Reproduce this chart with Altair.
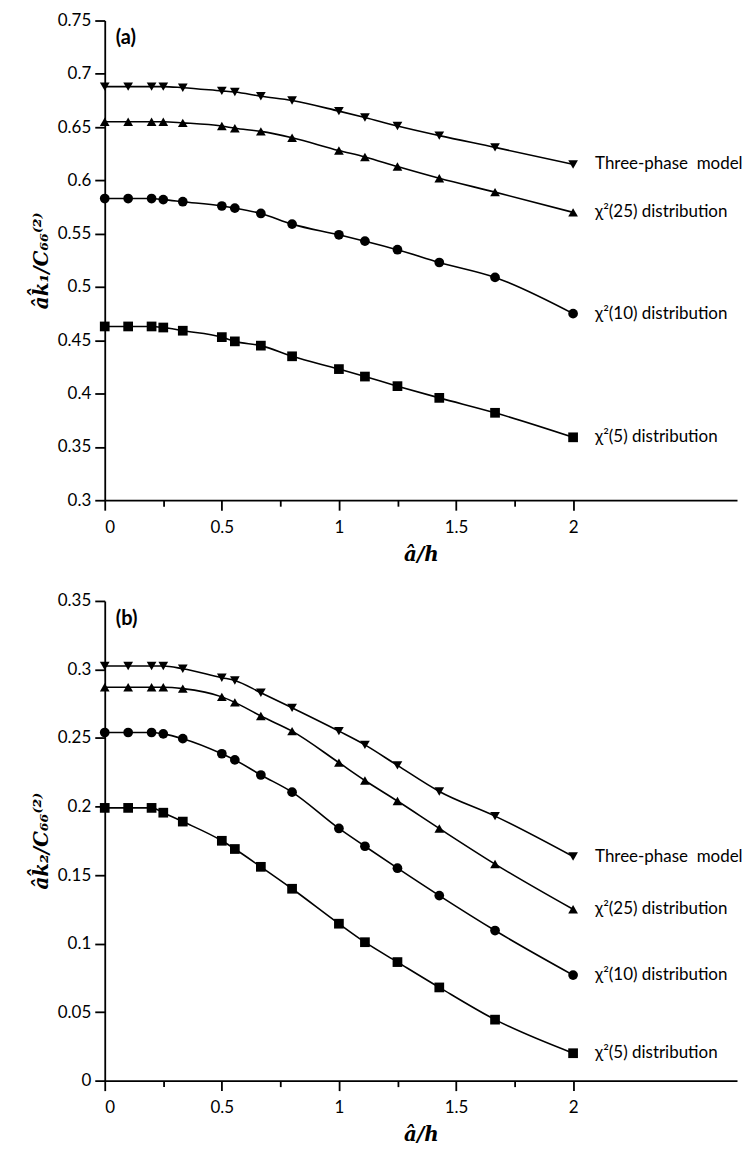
import altair as alt
import pandas as pd

# ---------------- data ----------------
x_vals = [0, 0.1, 0.2, 0.25, 0.3333, 0.5, 0.5556, 0.6667, 0.8, 1.0, 1.1111, 1.25, 1.4286, 1.6667, 2.0]

series_names = ["Three-phase\u00a0 model", "χ²(25) distribution", "χ²(10) distribution", "χ²(5) distribution"]
series_shapes = ["triangle-down", "triangle-up", "circle", "square"]

# panel (a): a k1 / C66
a_three_phase = [0.688, 0.688, 0.688, 0.688, 0.687, 0.684, 0.683, 0.679, 0.675, 0.665, 0.659, 0.651, 0.642, 0.631, 0.615]
a_chi25 = [0.655, 0.655, 0.655, 0.655, 0.654, 0.651, 0.649, 0.646, 0.640, 0.628, 0.622, 0.613, 0.602, 0.589, 0.570]
a_chi10 = [0.583, 0.583, 0.583, 0.582, 0.580, 0.576, 0.574, 0.569, 0.559, 0.549, 0.543, 0.535, 0.523, 0.509, 0.475]
a_chi5 = [0.463, 0.463, 0.463, 0.462, 0.459, 0.453, 0.449, 0.445, 0.435, 0.423, 0.416, 0.407, 0.396, 0.382, 0.359]

# panel (b): a k2 / C66
b_three_phase = [0.3025, 0.3025, 0.3025, 0.3025, 0.3005, 0.294, 0.292, 0.283, 0.272, 0.255, 0.245, 0.230, 0.211, 0.193, 0.1635]
b_chi25 = [0.287, 0.287, 0.287, 0.287, 0.286, 0.280, 0.276, 0.266, 0.255, 0.232, 0.219, 0.204, 0.184, 0.158, 0.125]
b_chi10 = [0.254, 0.254, 0.254, 0.253, 0.2495, 0.2385, 0.234, 0.223, 0.2105, 0.184, 0.171, 0.155, 0.135, 0.1095, 0.077]
b_chi5 = [0.199, 0.199, 0.199, 0.1955, 0.189, 0.175, 0.169, 0.156, 0.140, 0.1145, 0.101, 0.0865, 0.068, 0.0445, 0.020]

x_ticks = [0, 0.25, 0.5, 0.75, 1, 1.25, 1.5, 1.75, 2]
a_y_ticks = [0.3, 0.35, 0.4, 0.45, 0.5, 0.55, 0.6, 0.65, 0.7, 0.75]
b_y_ticks = [0, 0.05, 0.1, 0.15, 0.2, 0.25, 0.3, 0.35]

x_title = "\u00e2/h"
a_y_title = "\u00e2k\u0302\u2081/C\u2086\u2086\u207d\u00b2\u207e"
b_y_title = "\u00e2k\u0302\u2082/C\u2086\u2086\u207d\u00b2\u207e"

LABEL_FONT = "Lato"
TITLE_FONT = "DejaVu Serif"
W, H = 634, 481
X_MAX = 2.7


def make_long(series_lists):
    rows = []
    for name, vals in zip(series_names, series_lists):
        for xv, yv in zip(x_vals, vals):
            rows.append({"x": xv, "y": yv, "series": name})
    return pd.DataFrame(rows)


def panel(series_lists, y_dom, y_ticks, y_title, tag):
    df = make_long(series_lists)
    ends = df[df["x"] == x_vals[-1]]

    x_enc = alt.X(
        "x:Q",
        scale=alt.Scale(domain=[0, X_MAX], nice=False, zero=False),
        axis=alt.Axis(
            values=x_ticks,
            format="~g",
            labelExpr="datum.value % 0.5 === 0 ? datum.label : ''",
            tickSize={"condition": {"test": "datum.value % 0.5 !== 0", "value": 6}, "value": 10},
            labelPadding=9,
            title=x_title,
            titlePadding=9,
        ),
    )
    y_enc = alt.Y(
        "y:Q",
        scale=alt.Scale(domain=y_dom, nice=False, zero=False),
        axis=alt.Axis(
            values=y_ticks,
            format=".2~f",
            tickSize=10,
            labelPadding=4,
            title=y_title,
            titlePadding=6,
        ),
    )

    base = alt.Chart(df).encode(x=x_enc, y=y_enc)
    lines = base.mark_line(interpolate="monotone", color="black", strokeWidth=1.6).encode(
        detail="series:N"
    )
    points = base.mark_point(filled=True, color="black", size=95, opacity=1).encode(
        shape=alt.Shape(
            "series:N",
            scale=alt.Scale(domain=series_names, range=series_shapes),
            legend=None,
        )
    )
    labels = alt.Chart(ends).mark_text(
        align="left", baseline="middle", dx=22, font=LABEL_FONT, fontSize=17, color="black"
    ).encode(x="x:Q", y="y:Q", text="series:N")
    tag_text = alt.Chart(pd.DataFrame({"t": [tag]})).mark_text(
        align="left", baseline="top", font=LABEL_FONT, fontSize=20, fontWeight="bold", color="black"
    ).encode(x=alt.value(11), y=alt.value(8), text="t:N")

    return alt.layer(lines, points, labels, tag_text).properties(width=W, height=H)


top = panel([a_three_phase, a_chi25, a_chi10, a_chi5], [0.3, 0.75], a_y_ticks, a_y_title, "(a)")
bottom = panel([b_three_phase, b_chi25, b_chi10, b_chi5], [0, 0.35], b_y_ticks, b_y_title, "(b)")

chart = (
    alt.vconcat(top, bottom, spacing=28)
    .properties(padding={"left": 23, "top": 2, "right": 0, "bottom": 0})
    .configure_view(stroke=None)
    .configure_axis(
        grid=False,
        domainColor="black",
        domainWidth=1.8,
        tickColor="black",
        tickWidth=1.8,
        labelColor="black",
        labelFont=LABEL_FONT,
        labelFontSize=17,
        titleColor="black",
        titleFont=TITLE_FONT,
        titleFontSize=20,
        titleFontWeight="bold",
        titleFontStyle="italic",
    )
)

chart.save("out.html", embed_options={"renderer": "svg", "actions": False})
